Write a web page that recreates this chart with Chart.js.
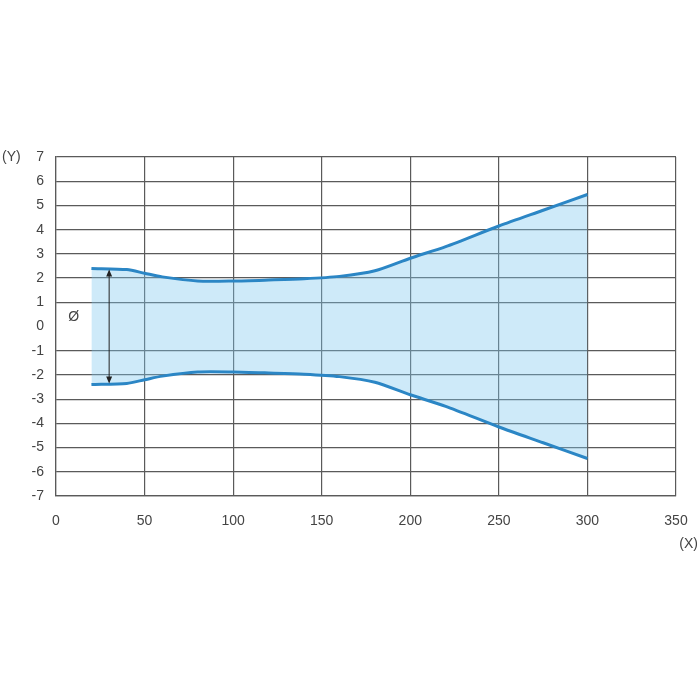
<!DOCTYPE html>
<html>
<head>
<meta charset="utf-8">
<script src="https://cdn.jsdelivr.net/npm/chart.js@4.4.1/dist/chart.umd.min.js"></script>
<style>
  html, body { margin: 0; padding: 0; background: #fff; }
  #wrap { width: 700px; height: 700px; }
</style>
</head>
<body>
<div id="wrap"><canvas id="grafica"></canvas></div>
<script>
// datos
const posX = [20, 40, 50, 60, 80, 100, 120, 140, 160, 180, 200, 220, 250, 275, 300];
const radioSup = [2.4, 2.35, 2.2, 2.05, 1.88, 1.88, 1.92, 1.97, 2.07, 2.3, 2.82, 3.3, 4.15, 4.8, 5.45];
const radioInf = [-2.4, -2.35, -2.2, -2.05, -1.88, -1.88, -1.92, -1.97, -2.07, -2.3, -2.82, -3.3, -4.15, -4.8, -5.45];
const ticksX = [0, 50, 100, 150, 200, 250, 300, 350];
const ticksY = [-7, -6, -5, -4, -3, -2, -1, 0, 1, 2, 3, 4, 5, 6, 7];

// flecha del diametro
const flechaX = 30;
const flechaArriba = 2.35;
const flechaAbajo = -2.35;

const azul = '#2b86c5';
const relleno = 'rgba(125, 200, 240, 0.38)';
const gris = '#5a5a5a';

const anotaciones = {
    id: 'anotaciones',
    afterDatasetsDraw(chart) {
        const ctx = chart.ctx;
        const x = chart.scales.x;
        const y = chart.scales.y;
        const px = x.getPixelForValue(flechaX);
        const y1 = y.getPixelForValue(flechaArriba);
        const y2 = y.getPixelForValue(flechaAbajo);
        ctx.save();
        ctx.strokeStyle = '#222';
        ctx.fillStyle = '#222';
        ctx.lineWidth = 1;
        ctx.beginPath();
        ctx.moveTo(px, y1 + 2);
        ctx.lineTo(px, y2 - 2);
        ctx.stroke();
        // puntas
        ctx.beginPath();
        ctx.moveTo(px, y1);
        ctx.lineTo(px - 3, y1 + 7);
        ctx.lineTo(px + 3, y1 + 7);
        ctx.closePath();
        ctx.fill();
        ctx.beginPath();
        ctx.moveTo(px, y2);
        ctx.lineTo(px - 3, y2 - 7);
        ctx.lineTo(px + 3, y2 - 7);
        ctx.closePath();
        ctx.fill();

        ctx.font = '14px "Liberation Sans", Arial, sans-serif';
        ctx.fillStyle = '#444';
        ctx.textAlign = 'center';
        ctx.textBaseline = 'middle';
        ctx.fillText('Ø', x.getPixelForValue(10), y.getPixelForValue(0.4));

        ctx.textAlign = 'left';
        ctx.fillText('(Y)', 2, y.getPixelForValue(7));
        ctx.textAlign = 'right';
        ctx.fillText('(X)', 698, chart.chartArea.bottom + 48);
        ctx.restore();
    }
};

new Chart(document.getElementById('grafica').getContext('2d'), {
    type: 'line',
    data: {
        datasets: [{
            data: posX.map((v, i) => ({ x: v, y: radioSup[i] })),
            borderColor: azul,
            borderWidth: 3,
            pointRadius: 0,
            tension: 0.25,
            fill: false
        }, {
            data: posX.map((v, i) => ({ x: v, y: radioInf[i] })),
            borderColor: azul,
            borderWidth: 3,
            pointRadius: 0,
            tension: 0.25,
            backgroundColor: relleno,
            fill: '-1'
        }]
    },
    options: {
        responsive: true,
        maintainAspectRatio: false,
        animation: false,
        layout: { padding: { left: 0, right: 24, top: 157, bottom: 164 } },
        plugins: {
            legend: { display: false },
            tooltip: { enabled: false }
        },
        scales: {
            x: {
                type: 'linear',
                min: 0,
                max: 350,
                afterBuildTicks: axis => { axis.ticks = ticksX.map(v => ({ value: v })); },
                afterFit: axis => {
                    axis.height = 40;
                    axis.paddingLeft = 0;
                    axis.paddingRight = 0;
                },
                ticks: {
                    padding: 17,
                    color: '#444',
                    font: { family: '"Liberation Sans", Arial, sans-serif', size: 14 }
                },
                grid: { color: gris, lineWidth: 1.2, drawTicks: false },
                border: { color: gris, width: 1.2 }
            },
            y: {
                type: 'linear',
                min: -7,
                max: 7,
                afterBuildTicks: axis => { axis.ticks = ticksY.map(v => ({ value: v })); },
                afterFit: axis => {
                    axis.width = 56;
                    axis.paddingTop = 0;
                    axis.paddingBottom = 0;
                },
                ticks: {
                    padding: 12,
                    color: '#444',
                    font: { family: '"Liberation Sans", Arial, sans-serif', size: 14 }
                },
                grid: {
                    color: c => (c.tick && c.tick.value === 0) ? 'rgba(0,0,0,0)' : gris,
                    lineWidth: 1.2,
                    drawTicks: false
                },
                border: { color: gris, width: 1.2 }
            }
        }
    },
    plugins: [anotaciones]
});
</script>
</body>
</html>
